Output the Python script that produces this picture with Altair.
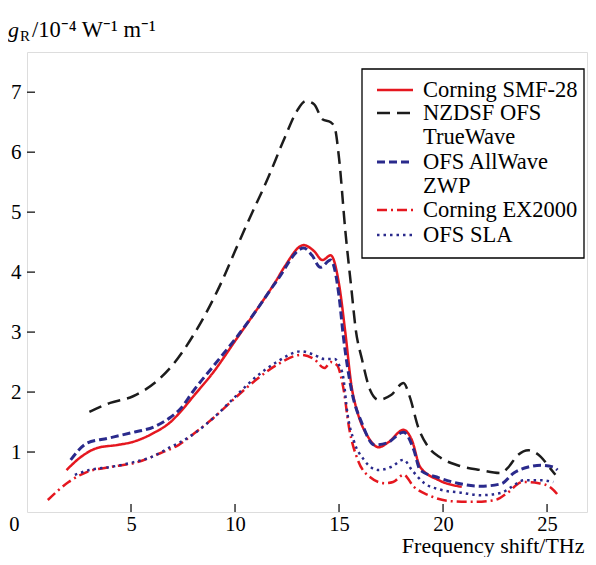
import altair as alt
import pandas as pd

# ---- data ----
smf28_x = [1.9, 2.6, 3.4, 4.4, 5.1, 6.1, 6.9, 7.4, 8.0, 9.0, 10.0, 11.0, 12.0, 12.4, 13.3, 13.8, 14.2, 14.6, 15.0, 15.3, 15.6, 15.9, 16.4, 16.9, 17.4, 18.1, 18.5, 18.9, 19.8, 20.9]
smf28_y = [0.70, 0.92, 1.07, 1.12, 1.17, 1.32, 1.50, 1.68, 1.93, 2.35, 2.85, 3.35, 3.87, 4.10, 4.45, 4.35, 4.20, 4.28, 3.80, 3.00, 2.10, 1.65, 1.25, 1.08, 1.17, 1.37, 1.20, 0.75, 0.53, 0.42]

nzdsf_x = [3.0, 4.0, 5.1, 6.3, 7.0, 8.0, 9.4, 10.0, 10.6, 11.6, 12.4, 13.0, 13.4, 13.8, 14.2, 14.6, 14.8, 15.0, 15.3, 15.6, 15.8, 16.1, 16.5, 16.9, 17.5, 18.1, 18.4, 18.8, 19.3, 19.9, 20.7, 21.8, 22.8, 23.1, 23.6, 24.1, 24.7, 25.1, 25.4]
nzdsf_y = [1.67, 1.82, 1.93, 2.20, 2.45, 2.95, 3.87, 4.35, 4.82, 5.58, 6.25, 6.70, 6.85, 6.80, 6.55, 6.50, 6.40, 5.90, 4.70, 3.70, 3.05, 2.55, 2.03, 1.87, 1.95, 2.15, 1.92, 1.42, 1.08, 0.90, 0.78, 0.70, 0.65, 0.73, 0.95, 1.03, 0.92, 0.75, 0.62]

allwave_x = [2.1, 2.9, 3.9, 5.0, 6.1, 6.9, 7.4, 8.0, 9.0, 10.0, 11.0, 12.0, 13.3, 13.7, 14.1, 14.6, 15.0, 15.2, 15.6, 16.1, 16.7, 17.3, 18.1, 18.6, 18.9, 19.8, 20.7, 21.8, 22.8, 23.4, 24.1, 24.7, 25.3, 25.5]
allwave_y = [0.87, 1.15, 1.23, 1.32, 1.42, 1.58, 1.73, 2.02, 2.45, 2.88, 3.35, 3.85, 4.40, 4.28, 4.08, 4.20, 3.60, 2.95, 2.03, 1.48, 1.12, 1.15, 1.33, 1.03, 0.70, 0.57, 0.48, 0.43, 0.47, 0.65, 0.75, 0.78, 0.75, 0.70]

ex2000_x = [1.0, 2.0, 2.9, 4.0, 5.3, 6.4, 7.3, 8.0, 9.0, 10.0, 11.0, 12.0, 13.2, 13.8, 14.3, 14.6, 14.9, 15.2, 15.5, 15.9, 16.5, 17.2, 17.6, 18.1, 18.6, 19.3, 20.4, 21.5, 22.5, 23.1, 23.8, 24.6, 25.2, 25.6]
ex2000_y = [0.20, 0.50, 0.67, 0.75, 0.83, 0.98, 1.12, 1.30, 1.58, 1.90, 2.20, 2.45, 2.62, 2.55, 2.40, 2.50, 2.45, 2.08, 1.37, 0.87, 0.58, 0.48, 0.50, 0.62, 0.42, 0.28, 0.18, 0.17, 0.20, 0.32, 0.50, 0.48, 0.40, 0.25]

sla_x = [2.3, 3.0, 4.0, 5.0, 6.0, 7.0, 7.3, 8.0, 9.0, 10.0, 11.0, 12.0, 13.2, 13.8, 14.3, 14.8, 15.0, 15.2, 15.4, 15.7, 16.2, 16.9, 17.5, 18.1, 18.5, 19.1, 19.9, 20.9, 21.8, 22.8, 23.3, 23.9, 24.7, 25.3]
sla_y = [0.62, 0.70, 0.75, 0.82, 0.92, 1.10, 1.15, 1.30, 1.58, 1.92, 2.25, 2.50, 2.68, 2.62, 2.55, 2.55, 2.45, 2.25, 1.65, 1.20, 0.87, 0.70, 0.75, 0.87, 0.70, 0.48, 0.37, 0.32, 0.28, 0.32, 0.42, 0.53, 0.53, 0.50]

series_names = ["Corning SMF-28", "NZDSF OFS\nTrueWave", "OFS AllWave\nZWP", "Corning EX2000", "OFS SLA"]
x_ticks = [0, 5, 10, 15, 20, 25]
y_ticks = [1, 2, 3, 4, 5, 6, 7]

# ---- styles ----
FONT = "Liberation Serif"
RED = "#e5171f"
BLACK = "#1c1c1c"
NAVY = "#2a2a8c"
styles = [
    dict(color=RED, dash=[1, 0], width=2.5),
    dict(color=BLACK, dash=[13, 7], width=2.5),
    dict(color=NAVY, dash=[8, 4], width=3),
    dict(color=RED, dash=[10, 4, 2, 4], width=2.5),
    dict(color=NAVY, dash=[2.5, 4], width=2.5),
]
series_data = [(smf28_x, smf28_y), (nzdsf_x, nzdsf_y), (allwave_x, allwave_y),
               (ex2000_x, ex2000_y), (sla_x, sla_y)]

W, H = 560, 460
xscale = alt.Scale(domain=[0, 26.92], nice=False, zero=False)
yscale = alt.Scale(domain=[0, 7.67], nice=False, zero=False)

xaxis = alt.Axis(
    values=x_ticks, ticks=False, domain=False, grid=False,
    labelFont=FONT, labelFontSize=20.5, labelColor="black", labelPadding=2,
    labelFlush=False, labelOverlap=False,
    labelAlign={"condition": {"test": "datum.value === 0", "value": "right"}, "value": "center"},
    labelOffset={"condition": {"test": "datum.value === 0", "value": -8}, "value": 0},
    title="Frequency shift/THz", titleFont=FONT, titleFontSize=22, titleFontWeight="normal",
    titleColor="black", titleX=557, titleY=40, titleAlign="right", titleBaseline="alphabetic",
)
yaxis = alt.Axis(
    values=y_ticks, ticks=False, domain=False, grid=False,
    labelFont=FONT, labelFontSize=21, labelColor="black", labelPadding=6,
    labelFlush=False, labelOverlap=False, title=None,
)

layers = []
for (xs, ys), st in zip(series_data, styles):
    df = pd.DataFrame({"x": xs, "y": ys})
    layers.append(
        alt.Chart(df).mark_line(color=st["color"], strokeDash=st["dash"], strokeWidth=st["width"],
                                interpolate="monotone")
        .encode(x=alt.X("x:Q", scale=xscale, axis=xaxis), y=alt.Y("y:Q", scale=yscale, axis=yaxis))
    )

# inward ticks
xt = pd.DataFrame({"x": [v for v in x_ticks if v > 0]})
layers.append(alt.Chart(xt).mark_rule(color="black", strokeWidth=1.2).encode(
    x=alt.X("x:Q", scale=xscale, axis=xaxis), y=alt.value(H), y2=alt.value(H - 8)))
yt = pd.DataFrame({"y": y_ticks})
layers.append(alt.Chart(yt).mark_rule(color="black", strokeWidth=1.2).encode(
    y=alt.Y("y:Q", scale=yscale, axis=yaxis), x=alt.value(0), x2=alt.value(8)))

one = pd.DataFrame({"a": [0]})

# legend box
layers.append(alt.Chart(one).mark_rect(fill="white", stroke="black", strokeWidth=1.3).encode(
    x=alt.value(335), x2=alt.value(557), y=alt.value(17), y2=alt.value(206)))
row_y = [38, 61, 110, 158, 183]
for name, st, ry in zip(series_names, styles, row_y):
    layers.append(alt.Chart(one).mark_rule(color=st["color"], strokeDash=st["dash"],
                                           strokeWidth=st["width"]).encode(
        x=alt.value(350), x2=alt.value(386), y=alt.value(ry)))
    layers.append(alt.Chart(one).mark_text(text=name, lineBreak="\n", lineHeight=24, align="left",
                                           baseline="alphabetic", font=FONT, fontSize=22.5,
                                           color="black").encode(
        x=alt.value(396), y=alt.value(ry + 7)))

# y-axis title: g_R / 10^-4 W^-1 m^-1
layers.append(alt.Chart(one).mark_text(text="g", align="left", baseline="alphabetic", font=FONT,
                                       fontSize=22, fontStyle="italic", color="black").encode(
    x=alt.value(-19), y=alt.value(-15)))
layers.append(alt.Chart(one).mark_text(text="R", align="left", baseline="alphabetic", font=FONT,
                                       fontSize=15, color="black").encode(
    x=alt.value(-7), y=alt.value(-11)))
layers.append(alt.Chart(one).mark_text(text="/10⁻⁴ W⁻¹ m⁻¹", align="left", baseline="alphabetic",
                                       font=FONT, fontSize=22.5, color="black").encode(
    x=alt.value(5), y=alt.value(-15)))

chart = alt.layer(*layers).properties(
    width=W, height=H,
    autosize=alt.AutoSizeParams(type="none"),
    padding={"left": 19, "top": 44, "right": 1, "bottom": 45},
).configure_view(stroke="black", strokeWidth=1.5).configure(background="white")

chart.save("out.html", embed_options={"renderer": "svg", "actions": False})
